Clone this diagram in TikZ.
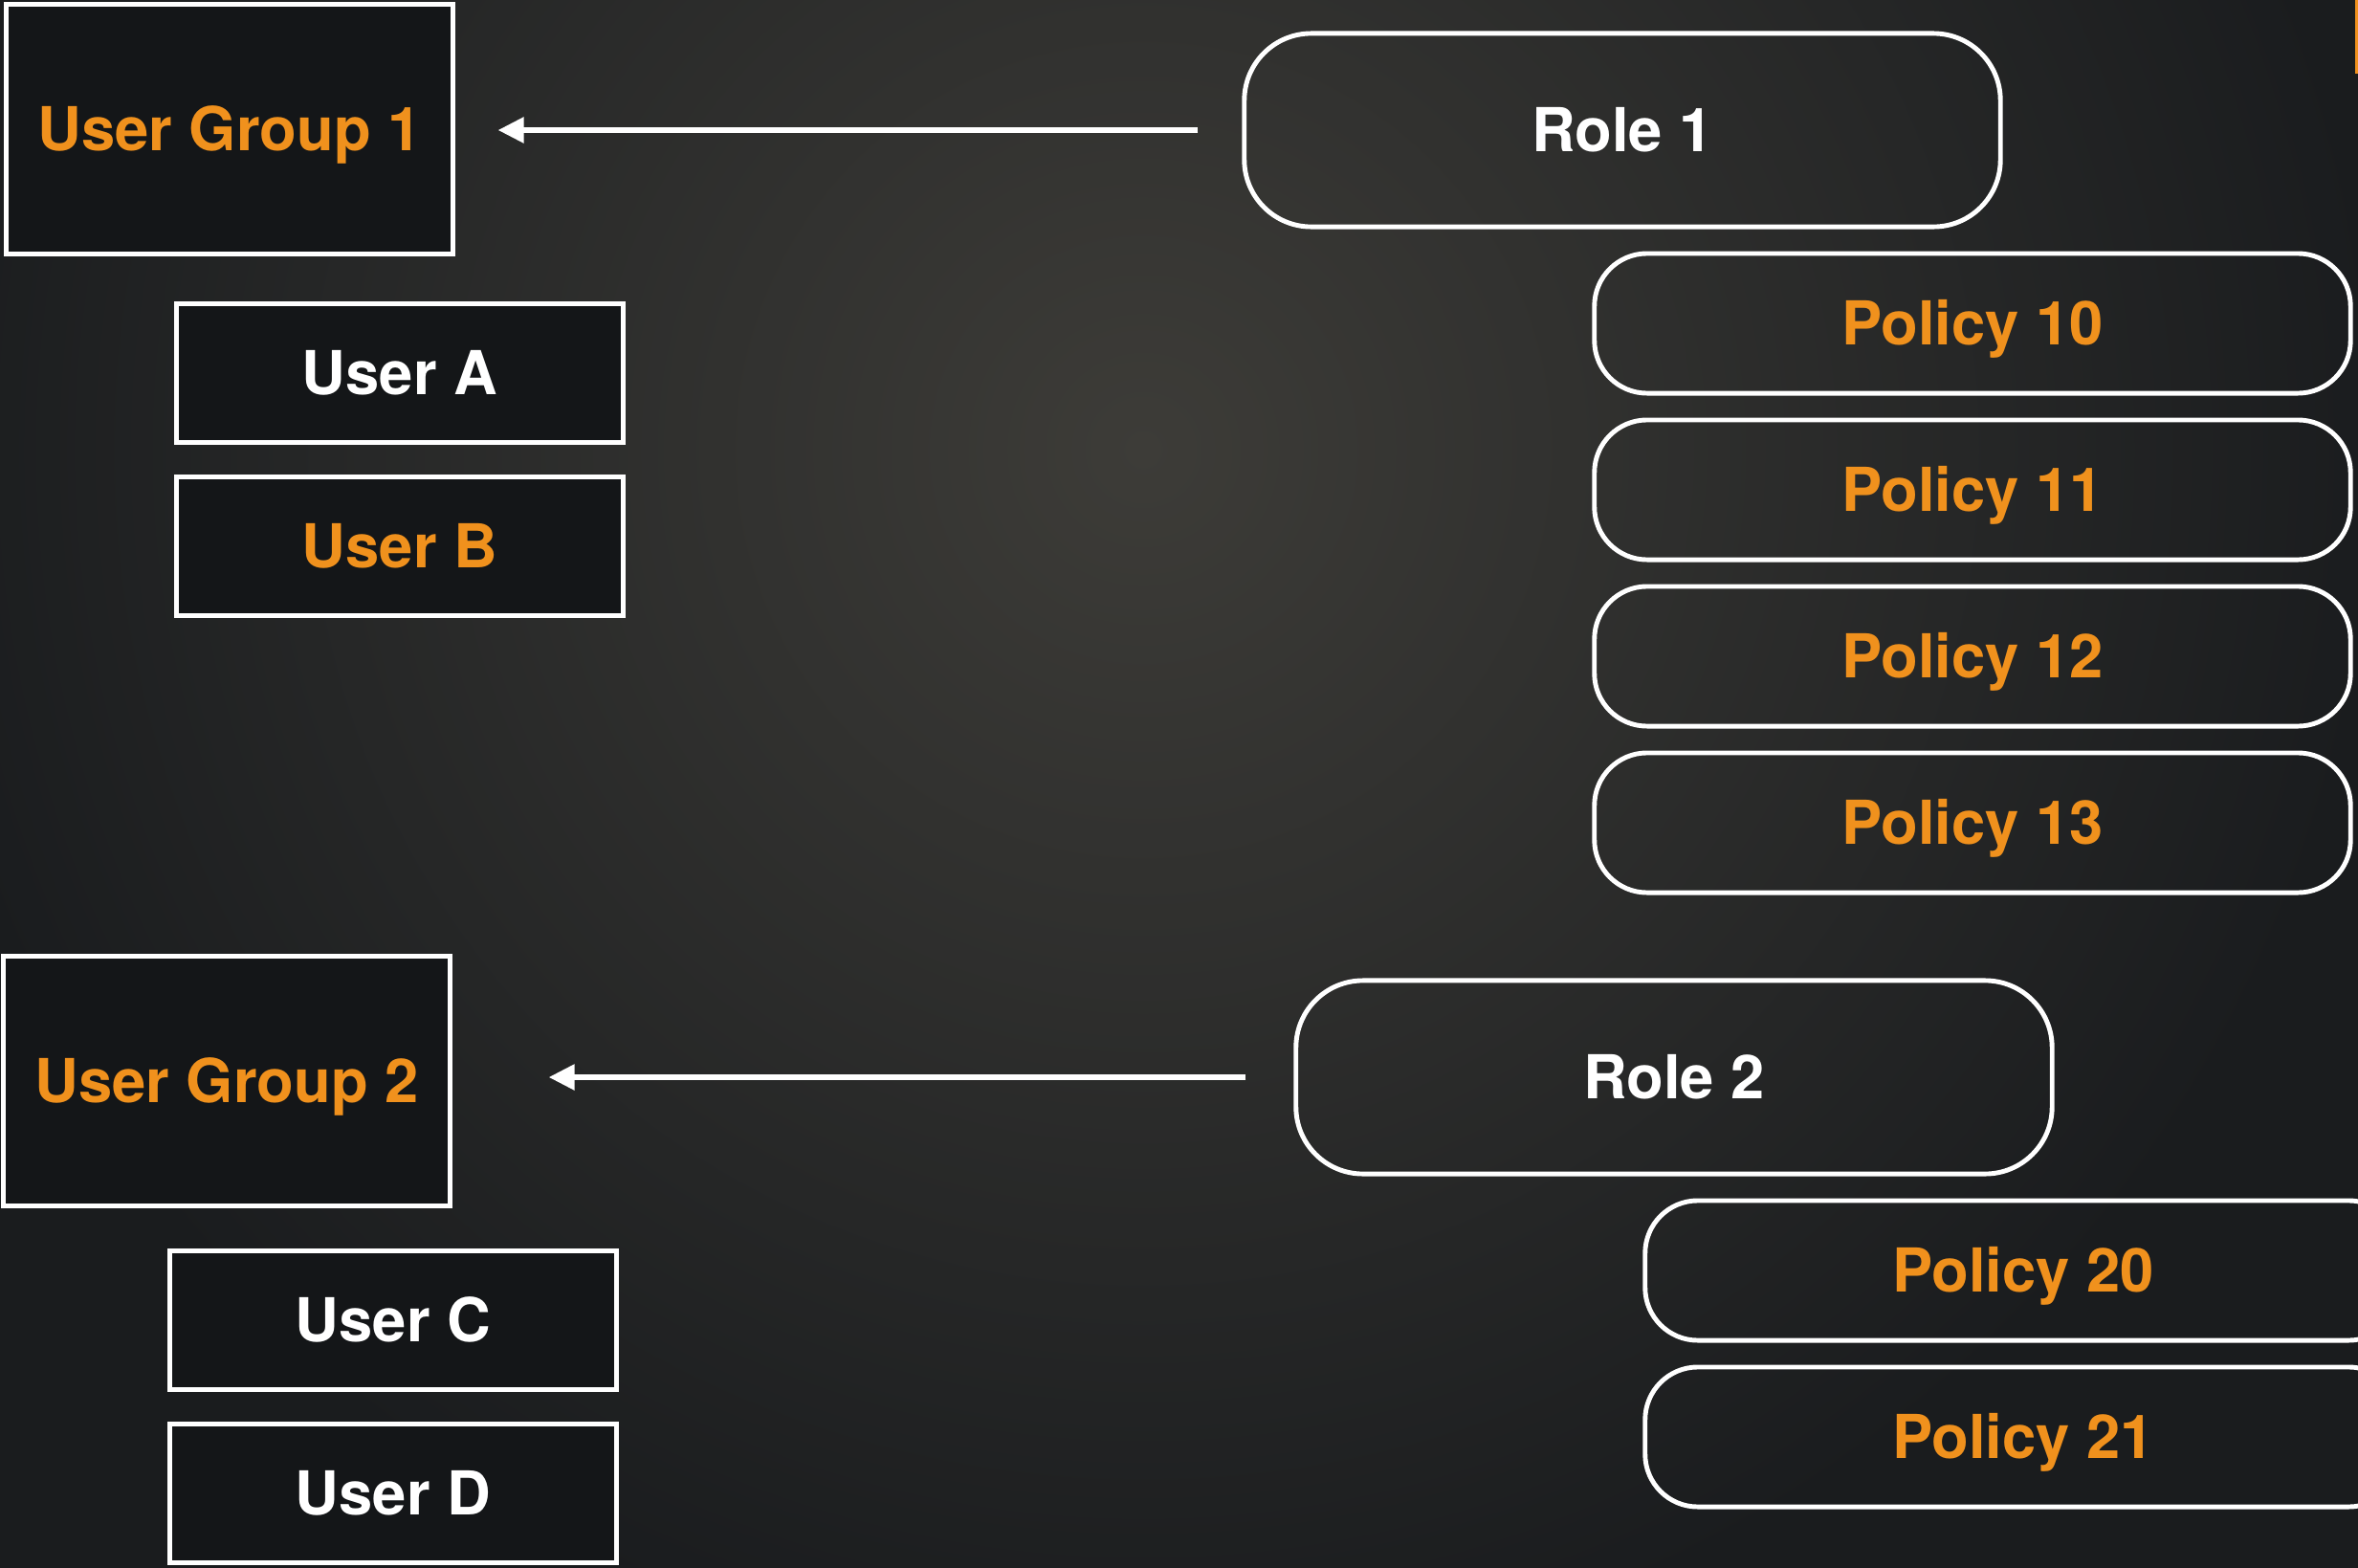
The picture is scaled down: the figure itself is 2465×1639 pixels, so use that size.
\documentclass[tikz,border=0pt]{standalone}
\usepackage{fontspec}
\setmainfont{TeX Gyre Heros}
\usetikzlibrary{arrows.meta}

\definecolor{bgdark}{HTML}{1A1C1E}
\definecolor{bgglow}{HTML}{3D3C38}
\definecolor{boxfill}{HTML}{141618}
\definecolor{iamorange}{HTML}{F0911D}

\begin{document}
\begin{tikzpicture}[x=0.01cm,y=-0.01cm,
    label font/.style={font=\bfseries\fontsize{18}{20}\selectfont,text height=13pt,text depth=0pt},
    group/.style={draw=white,line width=1.4pt,fill=boxfill,minimum width=4.66cm,minimum height=2.6cm,text=iamorange,label font},
    user/.style={draw=white,line width=1.4pt,fill=boxfill,minimum width=4.66cm,minimum height=1.45cm,text=white,label font},
    role/.style={draw=white,line width=1.4pt,rounded corners=0.7cm,minimum width=7.9cm,minimum height=2.02cm,text=white,label font},
    policy/.style={draw=white,line width=1.4pt,rounded corners=0.55cm,minimum width=7.9cm,minimum height=1.46cm,text=iamorange,label font},
    link/.style={draw=white,line width=1.6pt,-{Triangle[length=0.27cm,width=0.26cm]}}]

    \useasboundingbox (0,0) rectangle (2465,1639);
    % background
    \begin{scope}
        \clip (0,0) rectangle (2465,1639);
        \fill[bgdark] (0,0) rectangle (2465,1639);
        \shade[inner color=bgglow,outer color=bgdark] (1195,470) circle[radius=1300];
        \fill[iamorange] (2462,0) rectangle (2465,77);
    \end{scope}

    % users and groups
    \node[group] (ug1) at (240,135) {User Group 1};
    \node[user] (usera) at (418,390) {User A};
    \node[user,text=iamorange] (userb) at (418,571) {User B};
    \node[group] (ug2) at (237,1130) {User Group 2};
    \node[user] (userc) at (411,1380) {User C};
    \node[user] (userd) at (411,1561) {User D};

    % roles and policies
    \node[role] (role1) at (1696,136) {Role 1};
    \foreach \n/\y in {10/338,11/512,12/686,13/860}
        \node[policy] (p\n) at (2062,\y) {Policy \n};
    \node[role] (role2) at (1750,1126) {Role 2};
    \foreach \n/\y in {20/1328,21/1502}
        \node[policy] (p\n) at (2115,\y) {Policy \n};

    \draw[link,shorten <=0.46cm,shorten >=0.45cm] (role1.west) -- (role1.west -| ug1.east);
    \draw[link,shorten <=0.50cm,shorten >=1.01cm] (role2.west) -- (role2.west -| ug2.east);
\end{tikzpicture}
\end{document}
